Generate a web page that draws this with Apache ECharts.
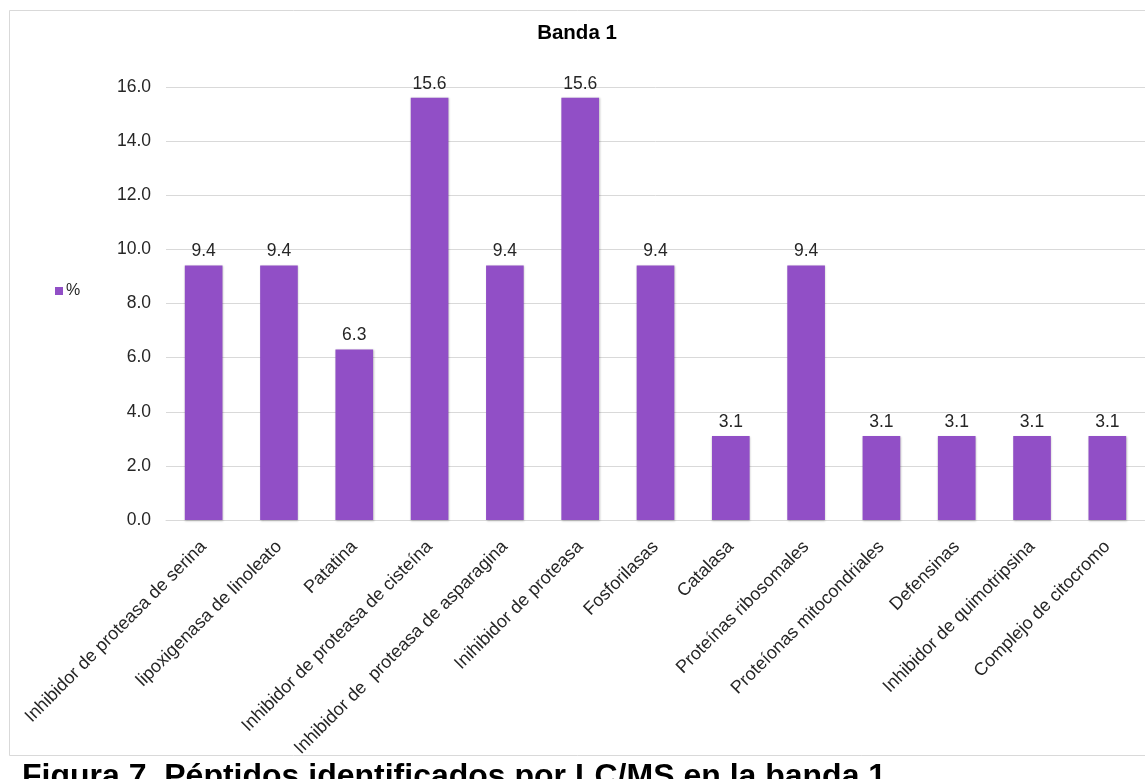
<!DOCTYPE html>
<html>
<head>
<meta charset="utf-8">
<title>Banda 1</title>
<script src="https://cdn.jsdelivr.net/npm/echarts@6/dist/echarts.min.js"></script>
<style>
  html, body { margin: 0; padding: 0; background: #fff; }
  #chart { width: 1145px; height: 779px; }
</style>
</head>
<body>
<div id="chart"></div>
<script>
// Péptidos identificados en la banda 1 (porcentaje por grupo)
const categories = [
  'Inhibidor de proteasa de serina',
  'lipoxigenasa de linoleato',
  'Patatina',
  'Inhibidor de proteasa de cisteína',
  'Inhibidor de  proteasa de asparagina',
  'Inihibidor de proteasa',
  'Fosforilasas',
  'Catalasa',
  'Proteínas ribosomales',
  'Proteíonas mitocondriales',
  'Defensinas',
  'Inhibidor de quimotripsina',
  'Complejo de citocromo'
];
const percentValues = [9.4, 9.4, 6.3, 15.6, 9.4, 15.6, 9.4, 3.1, 9.4, 3.1, 3.1, 3.1, 3.1];
const seriesName = '%';
const chartTitle = 'Banda 1';
const captionText = 'Figura 7. Péptidos identificados por LC/MS en la banda 1';

const font = 'Liberation Sans, Arial, Helvetica, sans-serif';
const labelSize = 17.5;
const chart = echarts.init(document.getElementById('chart'), null, { renderer: 'canvas' });

chart.setOption({
  backgroundColor: '#ffffff',
  animation: false,
  textStyle: { fontFamily: font },
  grid: { left: 166, right: -3, top: 87, bottom: 259, containLabel: false },
  legend: {
    data: [seriesName],
    left: 50,
    top: 278,
    icon: 'rect',
    itemWidth: 8,
    itemHeight: 8,
    itemGap: 4,
    textStyle: { fontSize: 16, color: '#262626', fontFamily: font, padding: [0, 0, 0, -2] }
  },
  xAxis: {
    type: 'category',
    data: categories,
    axisLine: { show: true, lineStyle: { color: '#d9d9d9', width: 1 } },
    axisTick: { show: false },
    axisLabel: {
      interval: 0,
      rotate: 45,
      fontSize: 18,
      color: '#262626',
      fontFamily: font,
      margin: 24
    }
  },
  yAxis: {
    type: 'value',
    min: 0,
    max: 16,
    interval: 2,
    axisLine: { show: false },
    axisTick: { show: false },
    splitLine: { lineStyle: { color: '#d9d9d9', width: 1 } },
    axisLabel: {
      fontSize: labelSize,
      color: '#262626',
      fontFamily: font,
      margin: 15,
      formatter: v => v.toFixed(1)
    }
  },
  series: [{
    name: seriesName,
    type: 'bar',
    data: percentValues,
    barWidth: '50%',
    itemStyle: {
      color: '#914fc6',
      shadowColor: 'rgba(0,0,0,0.25)',
      shadowBlur: 2,
      shadowOffsetX: 0.5,
      shadowOffsetY: 0.5
    },
    label: {
      show: true,
      position: 'top',
      distance: 5,
      fontSize: labelSize,
      color: '#262626',
      fontFamily: font,
      formatter: p => p.value.toFixed(1)
    }
  }],
  graphic: [
    {
      type: 'rect',
      silent: true,
      z: -1,
      shape: { x: 9.5, y: 10.5, width: 1160, height: 745 },
      style: { fill: 'none', stroke: '#d9d9d9', lineWidth: 1 }
    },
    {
      type: 'text',
      silent: true,
      x: 577,
      y: 33,
      style: {
        text: chartTitle,
        fontFamily: font,
        fontSize: 20.5,
        fontWeight: 'bold',
        fill: '#000',
        align: 'center',
        verticalAlign: 'middle'
      }
    },
    {
      type: 'text',
      silent: true,
      x: 22,
      y: 761,
      style: {
        text: captionText,
        fontFamily: font,
        fontSize: 32,
        fontWeight: 'bold',
        fill: '#000',
        verticalAlign: 'top'
      }
    }
  ]
});
</script>
</body>
</html>
